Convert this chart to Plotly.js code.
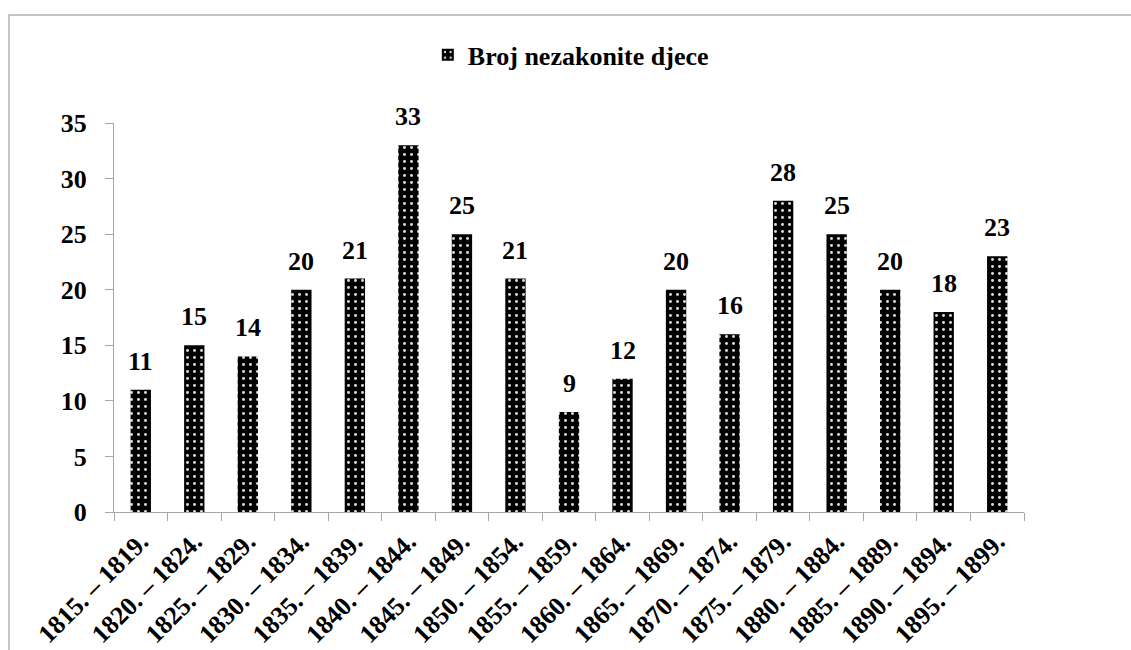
<!DOCTYPE html>
<html>
<head>
<meta charset="utf-8">
<script src="https://cdn.plot.ly/plotly-3.0.1.min.js"></script>
</head>
<body style="margin:0;background:#fff">
<div id="chart" style="width:1131px;height:650px"></div>
<script>
const categories = ["1815. – 1819.","1820. – 1824.","1825. – 1829.","1830. – 1834.","1835. – 1839.","1840. – 1844.","1845. – 1849.","1850. – 1854.","1855. – 1859.","1860. – 1864.","1865. – 1869.","1870. – 1874.","1875. – 1879.","1880. – 1884.","1885. – 1889.","1890. – 1894.","1895. – 1899."];
const values = [11,15,14,20,21,33,25,21,9,12,20,16,28,25,20,18,23];
const seriesName = "Broj nezakonite djece";
const yTicks = [0,5,10,15,20,25,30,35];

const FONT = "Liberation Serif";

function draw() {
  const trace = {
    type: 'bar',
    x: categories,
    y: values,
    name: '<b>' + seriesName + '</b>',
    showlegend: true,
    marker: {
      color: '#000',
      line: {width: 0},
      pattern: {shape: '.', bgcolor: '#000', fgcolor: '#dddddd', size: 7, solidity: 0.14, fillmode: 'replace'}
    },
    hoverinfo: 'none'
  };

  const annotations = categories.map((c, i) => ({
    x: c, y: values[i], xref: 'x', yref: 'y',
    text: '<b>' + String(values[i]) + '</b>', showarrow: false,
    yanchor: 'bottom', yshift: 12,
    font: {family: FONT, size: 26, color: '#000'}
  }));

  const layout = {
    width: 1131, height: 650,
    font: {family: FONT, color: '#000'},
    paper_bgcolor: '#fff', plot_bgcolor: '#fff',
    margin: {l: 114, r: 107, t: 123, b: 138},
    bargap: 0.62,
    showlegend: true,
    legend: {
      orientation: 'h', x: 0.502, xanchor: 'center', y: 1.175, yanchor: 'middle',
      font: {family: FONT, size: 26, color: '#000'},
      itemwidth: 30
    },
    xaxis: {
      type: 'category',
      tickangle: -45,
      tickson: 'boundaries',
      ticks: 'outside', ticklen: 8, tickcolor: '#a6a6a6', tickwidth: 1,
      showline: true, linecolor: '#a6a6a6', linewidth: 1,
      showgrid: false,
      ticklabelstandoff: 3,
      tickfont: {family: FONT, size: 26, color: '#000', weight: 700}
    },
    yaxis: {
      range: [0, 35],
      tickvals: yTicks,
      ticks: 'outside', ticklen: 8, tickcolor: '#a6a6a6', tickwidth: 1,
      showline: true, linecolor: '#a6a6a6', linewidth: 1,
      showgrid: false, zeroline: false,
      ticklabelstandoff: 13,
      tickfont: {family: FONT, size: 26, color: '#000', weight: 700}
    },
    annotations: annotations,
    shapes: [{
      type: 'rect', xref: 'paper', yref: 'paper',
      x0: -0.1154, x1: 1.3, y0: -0.5, y1: 1.2776,
      line: {color: '#b3b3b3', width: 1.5}, fillcolor: 'rgba(0,0,0,0)', layer: 'below'
    }]
  };

  Plotly.newPlot('chart', [trace], layout, {displayModeBar: false});
}
draw();
</script>
</body>
</html>
